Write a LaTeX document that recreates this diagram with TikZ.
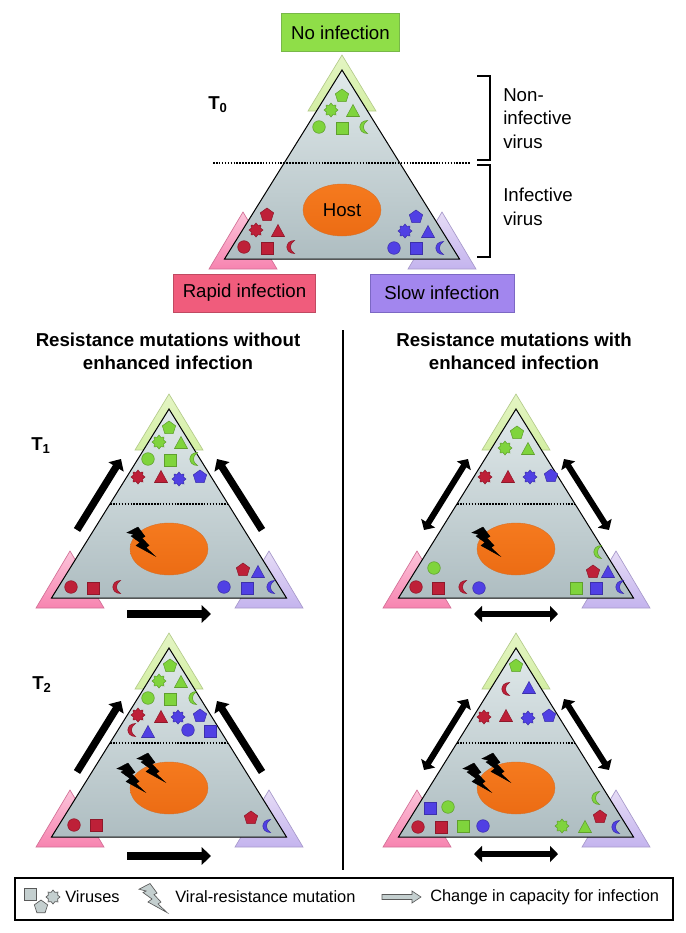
\documentclass[tikz,border=0pt]{standalone}
\usepackage{fontspec}
\setmainfont{Liberation Sans}
\usetikzlibrary{arrows.meta,shapes.geometric}

\definecolor{vgreen}{HTML}{7FD43C}
\definecolor{vred}{HTML}{BE2038}
\definecolor{vblue}{HTML}{5040E4}
\definecolor{vgrey}{HTML}{C4CFCF}
\definecolor{limetop}{HTML}{E4F5C4}
\definecolor{limelow}{HTML}{D4EFA4}
\definecolor{pinktop}{HTML}{FCC4DA}
\definecolor{pinklow}{HTML}{F784B0}
\definecolor{liactop}{HTML}{E6DCF6}
\definecolor{liaclow}{HTML}{C4B4EE}
\definecolor{slatetop}{HTML}{E0E9EA}
\definecolor{slatelow}{HTML}{AEBDC1}
\definecolor{hosttop}{HTML}{F57A1E}
\definecolor{hostlow}{HTML}{EC6C14}
\definecolor{nonefill}{HTML}{8FDE48}
\definecolor{noneline}{HTML}{78B848}
\definecolor{rapidfill}{HTML}{F05C7C}
\definecolor{rapidline}{HTML}{C04A62}
\definecolor{slowfill}{HTML}{A286EE}
\definecolor{slowline}{HTML}{7C68C4}

\tikzset{
  pent/.pic={\filldraw (-90:7)--(-18:7)--(54:7)--(126:7)--(198:7)--cycle;},
  gear/.pic={\filldraw plot[samples at={0,...,15}] ({\x*22.5}:{7-2*mod(\x,2)}) -- cycle;},
  tri/.pic={\filldraw (0,-6.5)--(6.5,5.5)--(-6.5,5.5)--cycle;},
  dot/.pic={\filldraw (0,0) circle (6.3);},
  sqr/.pic={\filldraw (-6,-6) rectangle (6,6);},
  moon/.pic={\filldraw (3.5,-6.5) .. controls (-6.7,-6.5) and (-6.7,6.5) .. (3.5,6.5)
                      .. controls (-2,3) and (-2,-3) .. cycle;},
  bolt/.pic={\filldraw (0,5.7)--(11,0)--(18,9.5)--(15,11)--(22,18.5)--(19,20.5)--(28,29)
                      --(9,18.5)--(13,15.5)--(4,9)--(7,7.5)--cycle;},
  virus/.style={draw=#1!75!black,fill=#1,line width=.4pt},
  strike/.style={draw=black,fill=black,line width=.3pt},
  keysym/.style={draw=black!65,fill=vgrey,line width=.5pt},
  corner/.style={top color=#1top,bottom color=#1low,draw=#1low!85!black,line width=.5pt},
  simplex/.style={top color=slatetop,bottom color=slatelow,draw=black,line width=.75pt},
  hostcell/.style={ellipse,inner sep=0pt,minimum width=58.5pt,minimum height=39pt,
                   top color=hosttop,bottom color=hostlow,draw=hostlow!80!gray,line width=.3pt,
                   font=\fontsize{14}{16}\selectfont},
  outcome/.style={rectangle,minimum height=28.5pt,line width=.6pt,font=\fontsize{14}{16}\selectfont},
  caption/.style={align=left,anchor=west,inner sep=0pt,font=\fontsize{14}{17.6}\selectfont},
  heading/.style={align=center,inner sep=0pt,font=\bfseries\fontsize{14}{17.6}\selectfont},
  stage/.style={inner sep=0pt,font=\bfseries\fontsize{14}{16}\selectfont},
  keytext/.style={anchor=west,inner sep=0pt,font=\fontsize{12.3}{14}\selectfont},
  sepline/.style={line width=1.1pt,dash pattern=on 1.2pt off 1pt},
  oneway/.style={line width=5.5pt,-{Triangle[length=7pt,width=13pt]}},
  twoway/.style={line width=4.5pt,{Triangle[length=6pt,width=12pt]}-{Triangle[length=6pt,width=12pt]}},
}

% one triangle with its three corners, host and arrow ends
\newcommand{\simplexpanel}[5]{%
  \begin{scope}[shift={(#2,#3)}]
    \path[corner=lime] (0,-15)--(34,41)--(-34,41)--cycle;
    \path[corner=pink] (-99,142)--(-65,199)--(-133,199)--cycle;
    \path[corner=liac] (100,142)--(134,199)--(66,199)--cycle;
    \path[simplex] (0,0)--(117.5,189)--(-117.5,189)--cycle;
    \node[hostcell] (#1-host) at (0,140) {#5};
    \coordinate (#1-sl) at (-59,95);
    \coordinate (#1-sr) at (59,95);
    \coordinate (#1-ll) at (-92,{121+#4});
    \coordinate (#1-lu) at (-48,{50+#4});
    \coordinate (#1-rl) at (93,{121+#4});
    \coordinate (#1-ru) at (48,{50+#4});
    \coordinate (#1-bl) at (-42,{205+#4});
    \coordinate (#1-br) at (42,{205+#4});
  \end{scope}}

\begin{document}
\begin{tikzpicture}[x=.75pt,y=-.75pt]
  \useasboundingbox (0,0) rectangle (686,933);

  \node[outcome,draw=noneline,fill=nonefill,minimum width=89pt]   (none)  at (340.5,32.5) {No infection};
  \node[outcome,draw=rapidline,fill=rapidfill,minimum width=107pt] (rapid) at (244.5,293) {Rapid infection};
  \node[outcome,draw=slowline,fill=slowfill,minimum width=108pt]  (slow)  at (442,293) {Slow infection};

  \simplexpanel{T0}{342}{70}{0}{Host}
  \simplexpanel{T1a}{169}{409}{0}{}
  \simplexpanel{T1b}{516}{409}{0}{}
  \simplexpanel{T2a}{169}{648}{3}{}
  \simplexpanel{T2b}{516}{648}{1}{}

  \coordinate (T0-sl) at (213,163);
  \coordinate (T0-sr) at (470,163);
  \foreach \n in {T0,T1a,T1b,T2a,T2b}
    \draw[sepline] (\n-sl) -- (\n-sr);

  \draw[line width=1.5pt] (477,76) -- (490,76) -- (490,160) -- (477,160);
  \draw[line width=1.5pt] (477,165) -- (490,165) -- (490,256.5) -- (477,256.5);

  \node[caption] (noninf) at (503,118.5) {Non-\\infective\\virus};
  \node[caption] (inf)    at (503,207) {Infective\\virus};

  \node[stage] (t0) at (218,105) {T\textsubscript{0}};
  \node[stage] (t1) at (41,446) {T\textsubscript{1}};
  \node[stage] (t2) at (42,685) {T\textsubscript{2}};

  \node[heading] (without) at (168,351.5) {Resistance mutations without\\enhanced infection};
  \node[heading] (with)    at (514,351.5) {Resistance mutations with\\enhanced infection};

  \coordinate (divtop) at (343,330);
  \coordinate (divbot) at (343,870);
  \draw[line width=1.5pt] (divtop) -- (divbot);

  \foreach \n in {T1a,T2a} {
    \draw[oneway] (\n-ll) -- (\n-lu);
    \draw[oneway] (\n-rl) -- (\n-ru);
    \draw[oneway] (\n-bl) -- (\n-br);
  }
  \foreach \n in {T1b,T2b} {
    \draw[twoway] (\n-ll) -- (\n-lu);
    \draw[twoway] (\n-rl) -- (\n-ru);
    \draw[twoway] (\n-bl) -- (\n-br);
  }

  % viruses
  \foreach \s/\x/\y/\c in {
      pent/342/96/vgreen, gear/331/110/vgreen, tri/353/111/vgreen, dot/319/127/vgreen, sqr/342/128/vgreen, moon/364/127/vgreen,
      pent/267/215/vred, gear/256/230/vred, tri/278/231/vred, dot/244/247/vred, sqr/267/248/vred, moon/291/247/vred,
      pent/416/217/vblue, gear/405/231/vblue, tri/428/232/vblue, dot/394/248/vblue, sqr/416/248/vblue, moon/440/248/vblue,
      pent/169/428/vgreen, gear/159/442/vgreen, tri/181/443/vgreen, dot/148/459/vgreen, sqr/170/460/vgreen, moon/194/459/vgreen,
      gear/138/477/vred, tri/161/477/vred, gear/179/479/vblue, pent/200/477/vblue,
      dot/71/587/vred, sqr/93/588/vred, moon/117/587/vred,
      pent/243/570/vred, tri/258/572/vblue, dot/224/587/vblue, sqr/247/588/vblue, moon/271/587/vblue,
      pent/517/433/vgreen, gear/505/448/vgreen, tri/528/449/vgreen,
      gear/485/477/vred, tri/508/477/vred, gear/530/477/vblue, pent/551/476/vblue,
      moon/598/552/vgreen, dot/434/568/vgreen,
      dot/416/587/vred, sqr/438/588/vred, moon/463/587/vred, dot/479/588/vblue,
      pent/593/572/vred, tri/608/572/vblue, sqr/576/588/vgreen, sqr/596/588/vblue, moon/620/587/vblue,
      pent/170/666/vgreen, gear/159/681/vgreen, tri/181/682/vgreen, dot/148/698/vgreen, sqr/170/699/vgreen, moon/193/698/vgreen,
      gear/138/715/vred, tri/161/717/vred, gear/178/717/vblue, pent/200/716/vblue,
      moon/132/730/vred, tri/148/732/vblue, dot/188/730/vblue, sqr/210/731/vblue,
      dot/74/825/vred, sqr/96/825/vred, pent/251/818/vred, moon/267/826/vblue,
      pent/516/666/vgreen, moon/506/689/vred, tri/529/688/vblue,
      gear/484/717/vred, tri/506/716/vred, gear/528/718/vblue, pent/549/716/vblue,
      sqr/430/808/vblue, dot/448/807/vgreen,
      dot/418/827/vred, sqr/441/827/vred, sqr/463/826/vgreen, dot/483/826/vblue,
      gear/562/826/vgreen, tri/585/827/vgreen, pent/600/817/vred, moon/596/798/vgreen, moon/616/827/vblue}
    \pic[virus=\c] at (\x,\y) {\s};

  % mutations in the host
  \foreach \x/\y in {127/527,472/527,137/753,117/763,482/753,463/763}
    \pic[strike] at (\x,\y) {bolt};

  % key
  \node[draw,line width=1.5pt,minimum width=493.5pt,minimum height=31pt,inner sep=0pt] (key) at (343.5,899) {};
  \pic[keysym] at (30.5,894) {sqr};
  \pic[keysym] at (41,907) {pent};
  \pic[keysym] at (53,897) {gear};
  \node[keytext] (viruses) at (65,897) {Viruses};
  \pic[keysym] at (139,883.5) {bolt};
  \node[keytext] (mutation) at (175,897) {Viral-resistance mutation};
  \filldraw[keysym] (382,894.5)--(412,894.5)--(412,891)--(421,897)--(412,903)--(412,899.5)--(382,899.5)--cycle;
  \node[keytext] (change) at (430,897) {Change in capacity for infection};
\end{tikzpicture}
\end{document}
